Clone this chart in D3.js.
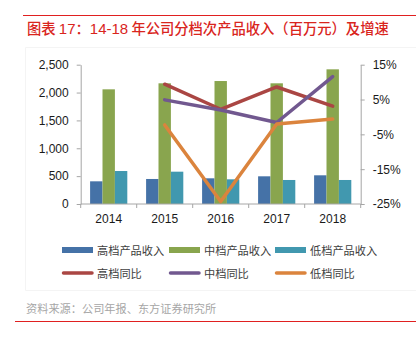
<!DOCTYPE html>
<html><head><meta charset="utf-8">
<script src="https://cdn.jsdelivr.net/npm/d3@7/dist/d3.min.js"></script>
<style>body{margin:0;background:#fff}svg{display:block}</style>
</head><body>
<script>
const years = ["2014","2015","2016","2017","2018"];
const highRev = [407, 449, 461, 497, 515];
const midRev = [2058, 2166, 2207, 2166, 2417];
const lowRev = [592, 580, 443, 431, 431];
const highYoY = [null, 9.4, 2.2, 8.6, 3.1];
const midYoY = [null, 4.9, 2.0, -1.6, 11.6];
const lowYoY = [null, -2.3, -24.3, -2.0, -0.6];
const leftTicks = [0, 500, 1000, 1500, 2000, 2500];
const rightTicks = [-25, -15, -5, 5, 15];
const barNames = ["高档产品收入","中档产品收入","低档产品收入"];
const lineNames = ["高档同比","中档同比","低档同比"];
const barColors = ["#4572A7","#89A54E","#4198AF"];
const lineColors = ["#AA4643","#71588F","#DB843D"];

const W = 416, H = 342;
const svg = d3.select("body").append("svg").attr("width", W).attr("height", H);
const font = "'Liberation Sans', Arial, sans-serif";
const cjk = "'Noto Sans CJK SC', sans-serif";

// frame lines
svg.append("line").attr("x1",23).attr("x2",416).attr("y1",15.5).attr("y2",15.5).attr("stroke","#e02020").attr("stroke-width",1);
svg.append("line").attr("x1",15).attr("x2",416).attr("y1",321.5).attr("y2",321.5).attr("stroke","#e02020").attr("stroke-width",1);
svg.append("path").attr("d","M416,47.5H25.5V290.5H416").attr("fill","none").attr("stroke","#f4f4f4");

const title = svg.append("text").attr("x",27).attr("y",34).attr("fill","#d9251d").attr("font-family",cjk).attr("font-size",14.3).attr("font-weight",500);
[["图表 ",cjk],["17",font],["：",cjk],["14-18",font],[" 年公司分档次产品收入（百万元）及增速",cjk]].forEach(([t,f]) => {
  title.append("tspan").attr("font-family",f).attr("font-weight", f===font ? 400 : 500).attr("font-size", f===font ? 15 : 14.3).text(t);
});

const L = 80.7, R = 360.7, T = 64.7, B = 204;
const x = d3.scaleBand().domain(years).range([L, R]).paddingInner(0).paddingOuter(0);
const xs = d3.scaleBand().domain([0,1,2]).range([0, 37.2]);
const yL = d3.scaleLinear().domain([0, 2500]).range([B, T]);
const yR = d3.scaleLinear().domain([-25, 15]).range([B, T]);

const revs = [highRev, midRev, lowRev];
const groupOff = (x.bandwidth() - 37.2) / 2;
revs.forEach((arr, s) => {
  svg.append("g").selectAll("rect").data(arr).join("rect")
    .attr("x", (d,i) => x(years[i]) + groupOff + xs(s))
    .attr("width", xs.bandwidth())
    .attr("y", d => yL(d))
    .attr("height", d => B - yL(d))
    .attr("fill", barColors[s]);
});

const axisColor = "#a6a6a6";
function styleAxis(g){
  g.selectAll(".domain").attr("stroke", axisColor);
  g.selectAll(".tick line").attr("stroke", axisColor);
  g.selectAll("text").attr("font-family", font).attr("font-size", 12).attr("fill", "#1a1a1a");
}
const gl = svg.append("g").attr("transform",`translate(${L},0)`)
  .call(d3.axisLeft(yL).tickValues(leftTicks).tickFormat(d3.format(",")).tickSize(4).tickSizeOuter(0).tickPadding(8));
styleAxis(gl);
const gr = svg.append("g").attr("transform",`translate(${R},0)`)
  .call(d3.axisRight(yR).tickValues(rightTicks).tickFormat(d => d + "%").tickSize(4).tickSizeOuter(0).tickPadding(8));
styleAxis(gr);
const gx = svg.append("g").attr("transform",`translate(0,${B})`)
  .call(d3.axisBottom(x).tickSize(0).tickPadding(10));
styleAxis(gx);
gx.selectAll(".domain").attr("d", `M${L},0H${R}`);
// boundary ticks
svg.append("g").selectAll("line").data(years.concat(["end"])).join("line")
  .attr("x1", (d,i) => L + i * x.bandwidth()).attr("x2", (d,i) => L + i * x.bandwidth())
  .attr("y1", B).attr("y2", B + 4).attr("stroke", axisColor);

const yoys = [highYoY, midYoY, lowYoY];
yoys.forEach((arr, s) => {
  const line = d3.line().defined(d => d != null)
    .x((d,i) => x(years[i]) + x.bandwidth()/2).y(d => yR(d));
  svg.append("path").datum(arr).attr("d", line).attr("fill","none")
    .attr("stroke", lineColors[s]).attr("stroke-width", 3.5).attr("stroke-linejoin","round").attr("stroke-linecap","round");
});

// legend
const lx = [62, 169, 275];
barNames.forEach((n, i) => {
  svg.append("rect").attr("x", lx[i]).attr("y", 247).attr("width", 31).attr("height", 6).attr("fill", barColors[i]);
  svg.append("text").attr("x", lx[i] + 35).attr("y", 254.5).attr("font-family", cjk).attr("font-size", 11.2).attr("fill", "#404040").text(n);
});
lineNames.forEach((n, i) => {
  svg.append("line").attr("x1", lx[i] + 1.5).attr("x2", lx[i] + 30).attr("y1", 273).attr("y2", 273)
    .attr("stroke", lineColors[i]).attr("stroke-width", 3.5).attr("stroke-linecap","round");
  svg.append("text").attr("x", lx[i] + 35).attr("y", 277.5).attr("font-family", cjk).attr("font-size", 11.2).attr("fill", "#404040").text(n);
});

svg.append("text").attr("x", 26).attr("y", 313).attr("font-family", cjk).attr("font-size", 11.2).attr("fill", "#a6a6a6")
  .text("资料来源：公司年报、东方证券研究所");
</script>
</body></html>
